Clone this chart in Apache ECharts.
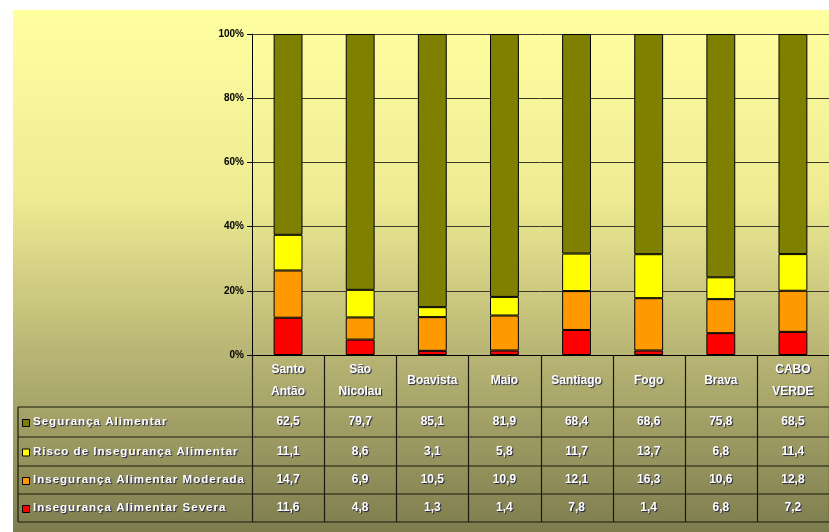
<!DOCTYPE html>
<html>
<head>
<meta charset="utf-8">
<script src="https://cdn.jsdelivr.net/npm/echarts@6/dist/echarts.min.js"></script>
<style>
  html, body { margin: 0; padding: 0; background: #fff; }
  #chart { width: 829px; height: 532px; }
</style>
</head>
<body>
<div id="chart"></div>
<script>
var ilhas = ["Santo\nAntão", "São\nNicolau", "Boavista", "Maio", "Santiago", "Fogo", "Brava", "CABO\nVERDE"]
var seguranca = [62.5, 79.7, 85.1, 81.9, 68.4, 68.6, 75.8, 68.5]
var risco = [11.1, 8.6, 3.1, 5.8, 11.7, 13.7, 6.8, 11.4]
var moderada = [14.7, 6.9, 10.5, 10.9, 12.1, 16.3, 10.6, 12.8]
var severa = [11.6, 4.8, 1.3, 1.4, 7.8, 1.4, 6.8, 7.2]
var yTicks = [0, 20, 40, 60, 80, 100]

var nomes = ["Segurança Alimentar", "Risco de Insegurança Alimentar", "Insegurança Alimentar Moderada", "Insegurança Alimentar Severa"]
var cores = ["#808000", "#FFFF00", "#FF9900", "#FF0000"]
var valores = [seguranca, risco, moderada, severa]

// 100% stacked: share of each column total
var totais = ilhas.map(function (_, i) {
  return seguranca[i] + risco[i] + moderada[i] + severa[i]
})
function pct(arr) {
  return arr.map(function (v, i) { return v / totais[i] * 100 })
}

var myChart = echarts.init(document.getElementById("chart"))

var fonte = "'Liberation Sans', Arial, sans-serif"
var txt = {
  fill: "#ffffff", font: "bold 12px " + fonte,
  textShadowColor: "rgba(20,20,60,0.9)", textShadowBlur: 1,
  textShadowOffsetX: 1, textShadowOffsetY: 1
}

// series drawn bottom to top: severa, moderada, risco, seguranca
var ordem = [3, 2, 1, 0]
var series = ordem.map(function (k) {
  return {
    name: nomes[k], type: "bar", stack: "total", barWidth: "40%",
    data: pct(valores[k]),
    itemStyle: { color: cores[k], borderColor: "#000", borderWidth: 1 },
    silent: true
  }
})

myChart.setOption({
  animation: false,
  grid: { left: 252, top: 34, bottom: 177, right: -7 },
  xAxis: {
    type: "category", data: ilhas,
    axisLine: { lineStyle: { color: "#000", width: 1 } },
    axisTick: { show: false },
    axisLabel: { show: false }
  },
  yAxis: {
    type: "value", min: 0, max: 100, interval: 20,
    axisLine: { show: true, lineStyle: { color: "#000" } },
    axisTick: { show: true, inside: false, length: 5, lineStyle: { color: "#000" } },
    axisLabel: {
      formatter: "{value}%", color: "#000", fontWeight: "bold", fontSize: 10,
      fontFamily: "'Liberation Sans Narrow', 'Liberation Sans', Arial", margin: 8
    },
    splitLine: { lineStyle: { color: "#3a3a2a", width: 1 } }
  },
  series: series
})

// table below the plot, placed from the category axis
var x0 = myChart.convertToPixel({ xAxisIndex: 0 }, 0)
var x1 = myChart.convertToPixel({ xAxisIndex: 0 }, 1)
var banda = x1 - x0
var eixoY = myChart.convertToPixel({ yAxisIndex: 0 }, 0)
var linhas = [eixoY, 407, 437, 466, 494, 522]
var esquerda = 18
var g = []

// background
g.push({
  type: "rect", z: -10, silent: true,
  shape: { x: 13, y: 10, width: 829, height: 532 },
  style: {
    fill: new echarts.graphic.LinearGradient(0, 0, 0, 1, [
      { offset: 0, color: "#FFFFA0" },
      { offset: 0.35, color: "#EEEB93" },
      { offset: 0.65, color: "#B7B474" },
      { offset: 1, color: "#7B7A4C" }
    ])
  }
})

var direita = x0 - banda / 2 + banda * ilhas.length
// horizontal rules
for (var r = 1; r < linhas.length; r++) {
  g.push({ type: "line", shape: { x1: esquerda, y1: linhas[r], x2: direita, y2: linhas[r] },
    style: { stroke: "#1a1a10", lineWidth: 1.2 } })
}
// vertical rules
g.push({ type: "line", shape: { x1: esquerda, y1: linhas[1], x2: esquerda, y2: linhas[5] },
  style: { stroke: "#1a1a10", lineWidth: 1.2 } })
for (var c = 0; c <= ilhas.length; c++) {
  var xb = Math.round(x0 - banda / 2 + banda * c) + 0.5
  g.push({ type: "line", shape: { x1: xb, y1: eixoY, x2: xb, y2: linhas[5] },
    style: { stroke: "#1a1a10", lineWidth: 1.2 } })
}
// category headers
ilhas.forEach(function (nome, i) {
  var cx = myChart.convertToPixel({ xAxisIndex: 0 }, i)
  g.push({ type: "text", x: cx, y: (linhas[0] + linhas[1]) / 2,
    style: Object.assign({}, txt, { text: nome, align: "center", verticalAlign: "middle", lineHeight: 22 }) })
})
// rows with legend keys and values
nomes.forEach(function (nome, k) {
  var cy = (linhas[k + 1] + linhas[k + 2]) / 2
  g.push({ type: "rect", shape: { x: 22.5, y: cy - 2.5, width: 7, height: 7 },
    style: { fill: cores[k], stroke: "#000", lineWidth: 1 } })
  g.push({ type: "text", x: 33, y: cy,
    style: Object.assign({}, txt, { text: nome.split("").join("\u200A"), align: "left", verticalAlign: "middle",
      font: "bold 11.6px " + fonte }) })
  valores[k].forEach(function (v, i) {
    var cx = myChart.convertToPixel({ xAxisIndex: 0 }, i)
    g.push({ type: "text", x: cx, y: cy,
      style: Object.assign({}, txt, { text: v.toFixed(1).replace(".", ","), align: "center", verticalAlign: "middle" }) })
  })
})

myChart.setOption({ graphic: g })
</script>
</body>
</html>
